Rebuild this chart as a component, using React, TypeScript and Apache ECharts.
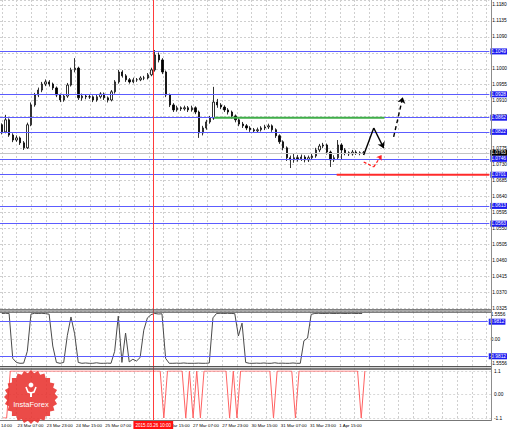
import React, { useEffect, useRef } from "react";
import * as echarts from "echarts";

const FONT = "Liberation Sans";

// "25 Mar 23:00" sits under the red cursor label in the reference and is not visible there
const timeTicks = [
  "23 Mar 07:00", "23 Mar 23:00", "24 Mar 15:00", "25 Mar 07:00", "", "26 Mar 15:00",
  "27 Mar 07:00", "27 Mar 23:00", "30 Mar 15:00", "31 Mar 07:00", "31 Mar 23:00", "1 Apr 15:00",
];
const firstTickPartial = "14:00";
const cursorLabel = "2015.03.26 10:00";

// [open, close, low, high]
const candles = [
  [1.0842, 1.0822, 1.0815, 1.0846], [1.0822, 1.0856, 1.0818, 1.087], [1.0856, 1.0813, 1.0808, 1.086],
  [1.0813, 1.0799, 1.0793, 1.0818], [1.0799, 1.0805, 1.0794, 1.0812], [1.0805, 1.0791, 1.0785, 1.0809],
  [1.0791, 1.0777, 1.0771, 1.0796], [1.0777, 1.0842, 1.0774, 1.0848], [1.0842, 1.0898, 1.0838, 1.0905],
  [1.0898, 1.0926, 1.0893, 1.0932], [1.0926, 1.094, 1.092, 1.0947], [1.094, 1.0957, 1.0934, 1.0963],
  [1.0957, 1.0963, 1.0951, 1.097], [1.0963, 1.0957, 1.095, 1.0968], [1.0957, 1.0946, 1.094, 1.0961],
  [1.0946, 1.0926, 1.092, 1.095], [1.0926, 1.0912, 1.0906, 1.093], [1.0912, 1.0923, 1.0907, 1.0929],
  [1.0923, 1.0954, 1.0918, 1.096], [1.0954, 1.0997, 1.095, 1.1003], [1.0997, 1.1002, 1.099, 1.103],
  [1.1002, 1.0918, 1.0912, 1.1006], [1.0918, 1.0923, 1.091, 1.093], [1.0923, 1.0921, 1.0914, 1.0928],
  [1.0921, 1.0921, 1.0915, 1.0927], [1.0921, 1.0912, 1.0906, 1.0925], [1.0912, 1.0921, 1.0907, 1.0926],
  [1.0921, 1.0929, 1.0916, 1.0934], [1.0929, 1.0918, 1.0912, 1.0933], [1.0918, 1.0912, 1.0905, 1.0922],
  [1.0912, 1.0935, 1.0908, 1.094], [1.0935, 1.0963, 1.093, 1.0968], [1.0963, 1.0991, 1.0958, 1.0997],
  [1.0991, 1.098, 1.0975, 1.0996], [1.098, 1.0969, 1.0963, 1.0985], [1.0969, 1.0963, 1.0958, 1.0974],
  [1.0963, 1.0969, 1.0959, 1.0975], [1.0969, 1.0969, 1.0963, 1.0974], [1.0969, 1.0974, 1.0965, 1.0979],
  [1.0974, 1.0974, 1.0968, 1.098], [1.0974, 1.0983, 1.097, 1.0988], [1.0983, 1.0997, 1.0979, 1.1003],
  [1.0997, 1.1039, 1.0992, 1.1053], [1.1039, 1.1025, 1.1018, 1.1046], [1.1025, 1.0991, 1.0985, 1.103],
  [1.0991, 1.0926, 1.092, 1.0995], [1.0926, 1.0898, 1.0892, 1.093], [1.0898, 1.0884, 1.0878, 1.0903],
  [1.0884, 1.089, 1.0879, 1.0896], [1.089, 1.0887, 1.0881, 1.0894], [1.0887, 1.089, 1.0882, 1.0896],
  [1.089, 1.0884, 1.0878, 1.0895], [1.0884, 1.089, 1.0879, 1.0896], [1.089, 1.0878, 1.0872, 1.0894],
  [1.0878, 1.0819, 1.0805, 1.0882], [1.0819, 1.0833, 1.0812, 1.0839], [1.0833, 1.085, 1.0828, 1.0856],
  [1.085, 1.0861, 1.0845, 1.0867], [1.0861, 1.0906, 1.0856, 1.0949], [1.0906, 1.0898, 1.089, 1.0915],
  [1.0898, 1.0892, 1.0886, 1.0903], [1.0892, 1.0884, 1.0878, 1.0897], [1.0884, 1.0878, 1.0871, 1.0889],
  [1.0878, 1.0867, 1.086, 1.0882], [1.0867, 1.0856, 1.0849, 1.0871], [1.0856, 1.0844, 1.0838, 1.086],
  [1.0844, 1.0839, 1.0833, 1.085], [1.0839, 1.0833, 1.0827, 1.0844], [1.0833, 1.0828, 1.0822, 1.0838],
  [1.0828, 1.0825, 1.0819, 1.0833], [1.0825, 1.0828, 1.082, 1.0834], [1.0828, 1.0833, 1.0823, 1.0838],
  [1.0833, 1.0836, 1.0827, 1.0842], [1.0836, 1.0839, 1.083, 1.0845], [1.0839, 1.0828, 1.0822, 1.0843],
  [1.0828, 1.0811, 1.0805, 1.0832], [1.0811, 1.0794, 1.0788, 1.0815], [1.0794, 1.0777, 1.077, 1.0798],
  [1.0777, 1.0749, 1.074, 1.0781], [1.0749, 1.0743, 1.072, 1.0755], [1.0743, 1.0749, 1.0735, 1.076],
  [1.0749, 1.0746, 1.0738, 1.0757], [1.0746, 1.0751, 1.074, 1.0758], [1.0751, 1.0743, 1.0736, 1.0756],
  [1.0743, 1.0749, 1.0737, 1.0755], [1.0749, 1.0754, 1.0743, 1.076], [1.0754, 1.0771, 1.0749, 1.0777],
  [1.0771, 1.0782, 1.0765, 1.0788], [1.0782, 1.0785, 1.0776, 1.0791], [1.0785, 1.0765, 1.0758, 1.0789],
  [1.0765, 1.0743, 1.0723, 1.0769], [1.0743, 1.0749, 1.0737, 1.0756], [1.0749, 1.0785, 1.0743, 1.0799],
  [1.0785, 1.0771, 1.0743, 1.079], [1.0771, 1.0763, 1.0756, 1.0776], [1.0763, 1.076, 1.0754, 1.0767],
  [1.076, 1.0765, 1.0755, 1.0771], [1.0765, 1.0763, 1.0757, 1.077], [1.0763, 1.0761, 1.0756, 1.0767],
  [1.0761, 1.0763, 1.0757, 1.0768],
];

const oscValues = [
  1.45, 1.46, 1.45, -1.1, -1.33, -1.38, -1.37, -0.7, 1.41, 1.46,
  1.45, 1.46, 1.44, 1.41, -0.4, -1.33, -1.38, -1.33, 0.2, 1.25,
  0.3, -1.33, -1.38, -1.36, -1.38, -1.38, -1.35, -1.38, -1.38, -1.37,
  -1.38, -0.7, 1.3, -1.33, 0.34, -1.3, -1.15, -1.25, -1.05, 0.5,
  1.2, 1.38, 1.45, 1.42, 1.43, -1.1, -1.38, -1.38, -1.37, -1.38,
  -1.36, -1.38, -1.38, -1.38, -1.37, -1.38, -1.38, -1.36, 1.2, 1.45,
  1.46, 1.45, 1.46, 1.45, 1.44, 0.17, 0.9, -1.33, -1.38, -1.38,
  -1.37, -1.38, -1.36, -1.38, -1.38, -1.35, -1.38, -1.37, -1.38, -1.38,
  -1.36, -1.38, -1.38, -0.1, 0.05, 1.4, 1.45, 1.46, 1.45, 1.45,
  1.46, 1.45, 1.45, 1.46, 1.45, 1.45, 1.46, 1.45, 1.45, 1.45,
];

const signalValues = [
  -1.1, -1.1, 1.1, 1.1, 1.1, 1.1, 1.1, 1.1, 1.1, 1.1,
  1.1, 1.1, 1.1, 1.1, 1.1, 1.1, 1.1, 1.1, 1.1, 1.1,
  1.1, 1.1, 1.1, 1.1, 1.1, 1.1, 1.1, 1.1, 1.1, 1.1,
  1.1, 1.1, 1.1, 1.1, 1.1, 1.1, 1.1, 1.1, 1.1, 1.1,
  1.1, 1.1, 1.1, 1.1, -1.1, 1.1, 1.1, 1.1, 1.1, 1.1,
  -1.1, 1.1, -1.1, 1.1, -1.1, 1.1, 1.1, 1.1, 1.1, 1.1,
  1.1, 1.1, -1.1, 1.1, -1.1, 1.1, 1.1, 1.1, 1.1, 1.1,
  1.1, 1.1, 1.1, 1.1, -1.1, 1.1, 1.1, 1.1, 1.1, 1.1,
  -1.1, 1.1, 1.1, 1.1, 1.1, 1.1, 1.1, 1.1, 1.1, 1.1,
  1.1, 1.1, 1.1, 1.1, 1.1, 1.1, 1.1, 1.1, -1.1, 1.1,
];

const levelLines = [1.1049, 1.0928, 1.0862, 1.0822, 1.0746, 1.0701, 1.0613, 1.0563];
const currentPrice = 1.0763;
const oscLevels = [0.9812, -0.9812];
const greenSegment = [[58.7, 1.0862], [105.3, 1.0862]];
const redSegment = [[92.2, 1.0701], [134, 1.0701]];
const solidArrow = [[99.6, 1.0757], [102.35, 1.0833], [105.1, 1.0776]];
const dashedArrow = [[107.8, 1.0808], [110.3, 1.092]];
const redArrow = [[99.6, 1.0737], [102.35, 1.0723], [104.5, 1.0757]];
const cursorPos = 41.2;

const SLOTS = 134;
const categories = Array.from({ length: SLOTS }, (_, i) => String(i));
const tickLabelFor = (i: number) => {
  const k = (i - 4) / 8;
  return Number.isInteger(k) && k >= 0 && k < timeTicks.length ? timeTicks[k] : "";
};

const BLUE = "#5c5cff";
const BOX_BLUE = "#1c1cf0";

function boxLabel(bg: string, text: string) {
  return {
    show: true,
    position: "end",
    distance: 1,
    formatter: text,
    backgroundColor: bg,
    color: "#fff",
    fontSize: 4.8,
    fontFamily: FONT,
    padding: [1, 1, 0, 1],
  };
}

function starPoints(n: number, rOut: number, rIn: number) {
  const pts: number[][] = [];
  for (let k = 0; k < n * 2; k++) {
    const a = (k * Math.PI) / n;
    const r = k % 2 === 0 ? rOut : rIn;
    pts.push([r * Math.cos(a), r * Math.sin(a)]);
  }
  return pts;
}

export default function App() {
  const ref = useRef<HTMLDivElement>(null);
  useEffect(() => {
    if (!ref.current) return;
    const chart = echarts.init(ref.current, undefined, { renderer: "svg" });
    const sepLine = (y: number, color: string, w: number) => ({
      type: "line",
      silent: true,
      z: 50,
      shape: { x1: 0, y1: y, x2: 491, y2: y },
      style: { stroke: color, lineWidth: w },
    });
    const levelSeries = (v: number, color: string, boxColor: string, z: number) => ({
      type: "line", xAxisIndex: 2, yAxisIndex: 1, data: [], silent: true, z,
      markLine: {
        silent: true, symbol: "none", precision: 4,
        lineStyle: { color, width: 1, type: "solid", opacity: 1 },
        data: [{ yAxis: v, label: boxLabel(boxColor, v.toFixed(4)) }],
      },
    });
    const option: any = {
      animation: false,
      backgroundColor: "#ffffff",
      textStyle: { fontFamily: FONT },
      grid: [
        { left: 2, top: 0, width: 484.7, height: 420 },
        { left: 0, top: 0, width: 491, height: 308 },
        { left: 0, top: 311.6, width: 491, height: 54.8 },
        { left: 0, top: 371, width: 491, height: 47 },
      ],
      xAxis: [
        {
          gridIndex: 0, type: "value", min: 0, max: 132, interval: 4,
          axisLine: { show: false }, axisTick: { show: false }, axisLabel: { show: false },
          splitLine: { show: true, lineStyle: { color: "#cfcfcf", type: [2, 2], width: 1 } },
        },
        { gridIndex: 1, type: "category", data: categories, show: false },
        { gridIndex: 1, type: "value", min: 0, max: SLOTS, show: false },
        { gridIndex: 2, type: "category", data: categories, show: false },
        {
          gridIndex: 3, type: "category", data: categories,
          axisLine: { show: false }, axisTick: { show: false }, splitLine: { show: false },
          axisLabel: {
            interval: 0, align: "left", fontSize: 4.4, margin: 5, color: "#000", fontFamily: FONT,
            formatter: (_v: string, idx: number) => tickLabelFor(idx),
          },
        },
      ],
      yAxis: [
        { gridIndex: 0, type: "value", min: 0, max: 1, show: false },
        {
          gridIndex: 1, type: "value", position: "right", min: 1.0325, max: 1.11941, interval: 0.0045,
          axisLine: { show: false }, axisTick: { show: false },
          splitLine: { show: true, lineStyle: { color: "#cfcfcf", type: [2, 2], width: 1 } },
          axisLabel: {
            fontSize: 4.8, color: "#000", margin: 3, showMaxLabel: false, fontFamily: FONT,
            formatter: (v: number) => v.toFixed(4),
          },
        },
        {
          gridIndex: 2, type: "value", position: "right", min: -1.5556, max: 1.5556, interval: 1.5556,
          axisLine: { show: false }, axisTick: { show: false },
          splitLine: { show: true, lineStyle: { color: "#d8d8d8", type: [2, 2], width: 1 } },
          axisLabel: {
            fontSize: 4.8, color: "#000", margin: 3, fontFamily: FONT,
            formatter: (v: number) => {
              if (Math.abs(v) < 1e-6) return "0.00";
              return v > 0 ? "{t|" + v.toFixed(4) + "}" : "{b|" + v.toFixed(4) + "}";
            },
            rich: {
              t: { fontSize: 4.8, color: "#000", padding: [6, 0, 0, 0], fontFamily: FONT },
              b: { fontSize: 4.8, color: "#000", padding: [0, 0, 6, 0], fontFamily: FONT },
            },
          },
        },
        {
          gridIndex: 3, type: "value", position: "right", min: -1.1, max: 1.1, interval: 1.1,
          axisLine: { show: false }, axisTick: { show: false },
          splitLine: { show: true, lineStyle: { color: "#d8d8d8", type: [2, 2], width: 1 } },
          axisLabel: {
            fontSize: 4.8, color: "#000", margin: 3, fontFamily: FONT,
            formatter: (v: number) => (Math.abs(v) < 1e-6 ? "0.00" : v.toFixed(1)),
          },
        },
      ],
      series: [
        {
          type: "line", xAxisIndex: 0, yAxisIndex: 0, data: [], silent: true,
          markLine: {
            silent: true, symbol: "none", z: 20, precision: 4,
            lineStyle: { color: "#ff3b3b", width: 1, type: "solid" },
            label: {
              show: true, position: "start", distance: 1, formatter: cursorLabel,
              backgroundColor: "#ff1010", color: "#fff", fontSize: 4.6, padding: [2, 2, 1, 2], fontFamily: FONT,
            },
            data: [{ xAxis: cursorPos }],
          },
        },
        {
          type: "candlestick", xAxisIndex: 1, yAxisIndex: 1, data: candles, barWidth: 1.8, silent: true, z: 4,
          itemStyle: { color: "#ffffff", color0: "#000000", borderColor: "#000000", borderColor0: "#000000", borderWidth: 0.8 },
        },
        levelSeries(currentPrice, "#c4c4c4", "#000000", 2),
        ...levelLines.map((v) => levelSeries(v, BLUE, BOX_BLUE, 3)),
        {
          type: "line", xAxisIndex: 2, yAxisIndex: 1, data: greenSegment, symbol: "none", silent: true, z: 5,
          lineStyle: { color: "#3fae49", width: 2 },
        },
        {
          type: "line", xAxisIndex: 2, yAxisIndex: 1, data: redSegment, symbol: "none", silent: true, z: 5,
          lineStyle: { color: "#ff2a2a", width: 2 },
        },
        {
          type: "lines", coordinateSystem: "cartesian2d", xAxisIndex: 2, yAxisIndex: 1, silent: true, z: 6,
          symbol: ["none", "none"],
          lineStyle: { color: "#000", width: 1.4, type: "solid", opacity: 1, curveness: 0 },
          data: [{ coords: [solidArrow[0], solidArrow[1]] }],
        },
        {
          type: "lines", coordinateSystem: "cartesian2d", xAxisIndex: 2, yAxisIndex: 1, silent: true, z: 6,
          symbol: ["none", "arrow"], symbolSize: 6,
          lineStyle: { color: "#000", width: 1.4, type: "solid", opacity: 1, curveness: 0 },
          data: [{ coords: [solidArrow[1], solidArrow[2]] }],
        },
        {
          type: "lines", coordinateSystem: "cartesian2d", xAxisIndex: 2, yAxisIndex: 1, silent: true, z: 6,
          symbol: ["none", "arrow"], symbolSize: 6,
          lineStyle: { color: "#000", width: 1.4, type: [4, 3], opacity: 1, curveness: 0 },
          data: [{ coords: [dashedArrow[0], dashedArrow[1]] }],
        },
        {
          type: "lines", coordinateSystem: "cartesian2d", xAxisIndex: 2, yAxisIndex: 1, silent: true, z: 6,
          symbol: ["none", "none"],
          lineStyle: { color: "#ff2020", width: 1.3, type: [3, 2], opacity: 1, curveness: 0 },
          data: [{ coords: [redArrow[0], redArrow[1]] }],
        },
        {
          type: "lines", coordinateSystem: "cartesian2d", xAxisIndex: 2, yAxisIndex: 1, silent: true, z: 6,
          symbol: ["none", "arrow"], symbolSize: 5,
          lineStyle: { color: "#ff2020", width: 1.3, type: [3, 2], opacity: 1, curveness: 0 },
          data: [{ coords: [redArrow[1], redArrow[2]] }],
        },
        {
          type: "line", xAxisIndex: 3, yAxisIndex: 2, data: oscValues, symbol: "none", silent: true,
          lineStyle: { color: "#4a4a4a", width: 1 },
          markLine: {
            silent: true, symbol: "none", precision: 4,
            lineStyle: { color: BLUE, width: 1, type: "solid", opacity: 1 },
            data: oscLevels.map((v) => ({ yAxis: v, label: boxLabel(BOX_BLUE, v.toFixed(4)) })),
          },
        },
        {
          type: "line", xAxisIndex: 4, yAxisIndex: 3, data: signalValues, symbol: "none", silent: true,
          lineStyle: { color: "#ff6262", width: 1 },
        },
      ],
      graphic: [
        sepLine(309.8, "#555555", 1.3),
        sepLine(312.2, "#555555", 1.3),
        sepLine(366.6, "#555555", 1.3),
        sepLine(369, "#555555", 1.3),
        sepLine(420.5, "#777777", 1),
        {
          type: "line", silent: true, z: 50,
          shape: { x1: 491.5, y1: 0, x2: 491.5, y2: 421 },
          style: { stroke: "#8c8c8c", lineWidth: 1 },
        },
        {
          type: "text", silent: true, z: 50, x: 1, y: 423,
          style: { text: firstTickPartial, fontSize: 4.4, fill: "#000", fontFamily: FONT, align: "left", verticalAlign: "top" },
        },
        {
          type: "group", x: 31, y: 397, z: 100, silent: true,
          children: [
            {
              type: "polygon", z: 100,
              shape: { points: starPoints(24, 27, 24) },
              style: { fill: "#e8322f", opacity: 0.88 },
            },
            { type: "circle", z: 101, shape: { cx: 0, cy: -12, r: 2.4 }, style: { fill: "#fff" } },
            {
              type: "polyline", z: 101,
              shape: { points: [[-5, -10], [-3, -5], [0, -4], [3, -5], [5, -10]] },
              style: { stroke: "#fff", lineWidth: 1.6, fill: "none" },
            },
            { type: "rect", z: 101, shape: { x: -1, y: -5, width: 2, height: 5 }, style: { fill: "#fff" } },
            {
              type: "text", z: 102, x: 0, y: 7,
              style: { text: "InstaForex", fill: "#fff", fontSize: 7.5, fontFamily: FONT, align: "center", verticalAlign: "middle" },
            },
          ],
        },
      ],
    };
    chart.setOption(option);
    return () => chart.dispose();
  }, []);
  return (
    <div
      ref={ref}
      style={{ position: "fixed", left: 0, top: 0, width: 510, height: 431, background: "#fff" }}
    />
  );
}
